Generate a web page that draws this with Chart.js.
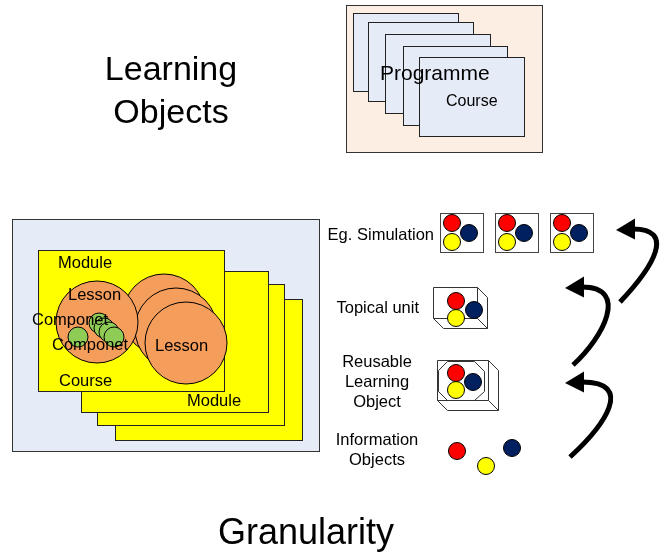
<!DOCTYPE html>
<html>
<head>
<meta charset="utf-8">
<script src="https://cdn.jsdelivr.net/npm/chart.js@4.4.0/dist/chart.umd.min.js"></script>
<style>
  html, body { margin: 0; padding: 0; background: #fff; }
  canvas { display: block; }
</style>
</head>
<body>
<canvas id="diagram" width="660" height="554"></canvas>
<script>
// Diagram coordinates (x to the right, y downwards), 660 x 554 units

// Frames and cards: [x0, y0, x1, y1]
const programmeFrame = [346, 5, 542, 152];
const programmeCards = [[353, 13, 458, 91], [368, 22, 473, 101], [385, 34, 490, 113], [403, 46, 507, 125], [419, 57, 524, 136]];
const granuleFrame = [12, 219, 319, 451];
const moduleCards = [[115, 299, 302, 440], [97, 284, 284, 425], [81, 271, 268, 412], [38, 250, 224, 391]];
const simBoxes = [[440, 213, 483, 252], [495, 213, 538, 252], [550, 213, 593, 252]];

// Circles (centres)
const lessonBig = [[164, 315], [176, 329], [186, 343]];
const lessonSmall = [[97, 322]];
const components = [[78, 337], [99, 323], [104, 328], [109, 332], [114, 337]];
const redObjects = [[452, 223], [507, 223], [562, 223], [456, 301], [456, 373], [457, 451]];
const yellowObjects = [[452, 242], [507, 242], [562, 242], [456, 318], [456, 390], [486, 466]];
const navyObjects = [[469, 233], [524, 233], [579, 233], [474, 310], [473, 382], [512, 448]];

// Arrows: tail, control 1, control 2, end of shaft
const arrows = [
  [570, 457, 605, 425, 635, 382, 582, 382],
  [573, 365, 603, 338, 630, 287, 582, 287],
  [620, 302, 655, 265, 675, 229, 633, 229]
];

// Texts: [text, x, y, size]
const bigTexts = [['Learning', 171, 80, 34], ['Objects', 171, 123, 34], ['Granularity', 306, 544, 36]];
const programmeTexts = [['Programme', 380, 80, 21], ['Course', 446, 106, 16]];
const moduleTexts = [['Module', 58, 268], ['Course', 59, 386], ['Module', 187, 406],
  ['Lesson', 68, 300], ['Lesson', 155, 351], ['Componet', 32, 325], ['Componet', 52, 350]];
const levelTexts = [['Eg. Simulation', 434, 240, 'right'], ['Topical unit', 419, 313, 'right'],
  ['Reusable', 377, 367, 'center'], ['Learning', 377, 387, 'center'], ['Object', 377, 407, 'center'],
  ['Information', 377, 445, 'center'], ['Objects', 377, 465, 'center']];

const FONT = '"Liberation Sans", Arial, sans-serif';

const toXY = list => list.map(p => ({ x: p[0], y: p[1] }));

function circleSet(label, list, r, fill, order) {
  return {
    label: label,
    data: toXY(list),
    pointRadius: r,
    pointHoverRadius: r,
    pointBackgroundColor: fill,
    pointBorderColor: '#000',
    pointBorderWidth: 1,
    pointHoverBorderWidth: 1,
    showLine: false,
    clip: false,
    order: order
  };
}

// Draws the frames, boxes, arrows and texts through the chart scales
const diagramPlugin = {
  id: 'diagram',
  beforeDatasetsDraw(chart) {
    const ctx = chart.ctx;
    const sx = v => chart.scales.x.getPixelForValue(v);
    const sy = v => chart.scales.y.getPixelForValue(v);

    function box(r, fill, stroke) {
      const x0 = Math.round(sx(r[0])) + 0.5, y0 = Math.round(sy(r[1])) + 0.5;
      const x1 = Math.round(sx(r[2])) + 0.5, y1 = Math.round(sy(r[3])) + 0.5;
      ctx.fillStyle = fill;
      ctx.fillRect(x0, y0, x1 - x0, y1 - y0);
      ctx.strokeStyle = stroke;
      ctx.lineWidth = 1;
      ctx.strokeRect(x0, y0, x1 - x0, y1 - y0);
    }
    function poly(points, close) {
      ctx.beginPath();
      points.forEach((p, i) => {
        const px = Math.round(sx(p[0])) + 0.5, py = Math.round(sy(p[1])) + 0.5;
        if (i === 0) ctx.moveTo(px, py); else ctx.lineTo(px, py);
      });
      if (close) ctx.closePath();
      ctx.stroke();
    }

    ctx.save();
    box(programmeFrame, '#fdeee4', '#333');
    programmeCards.forEach(c => box(c, '#e6ecf7', '#222'));
    box(granuleFrame, '#e6ecf7', '#333');
    moduleCards.forEach(c => box(c, '#ffff00', '#222'));
    simBoxes.forEach(c => box(c, '#ffffff', '#444'));

    // Topical unit: open cube
    ctx.strokeStyle = '#333';
    ctx.lineWidth = 1;
    poly([[433, 287], [477, 287], [487, 297], [487, 328], [443, 328], [433, 318]], true);
    poly([[433, 318], [477, 318], [477, 287]], false);
    poly([[477, 318], [487, 328]], false);

    // Reusable learning object: cube with an octagon inside
    poly([[437, 360], [488, 360], [498, 370], [498, 410], [447, 410], [437, 400]], true);
    poly([[437, 400], [488, 400], [488, 360]], false);
    poly([[488, 400], [498, 410]], false);
    poly([[447, 361], [474, 361], [484, 371], [484, 391], [474, 400], [447, 400], [438, 391], [438, 370]], true);
    ctx.restore();
  },
  afterDatasetsDraw(chart) {
    const ctx = chart.ctx;
    const sx = v => chart.scales.x.getPixelForValue(v);
    const sy = v => chart.scales.y.getPixelForValue(v);

    ctx.save();
    // Arrows
    ctx.strokeStyle = '#000';
    ctx.fillStyle = '#000';
    arrows.forEach(a => {
      ctx.lineWidth = 5;
      ctx.beginPath();
      ctx.moveTo(sx(a[0]), sy(a[1]));
      ctx.bezierCurveTo(sx(a[2]), sy(a[3]), sx(a[4]), sy(a[5]), sx(a[6]), sy(a[7]));
      ctx.stroke();
      const ex = sx(a[6]), ey = sy(a[7]);
      let dx = ex - sx(a[4]), dy = ey - sy(a[5]);
      const len = Math.hypot(dx, dy);
      dx /= len; dy /= len;
      ctx.beginPath();
      ctx.moveTo(ex + dx * 17, ey + dy * 17 + 1);
      ctx.lineTo(ex - dx * 2 - dy * 9.5, ey - dy * 2 + dx * 9.5 - 1);
      ctx.lineTo(ex - dx * 2 + dy * 9.5, ey - dy * 2 - dx * 9.5 + 1);
      ctx.closePath();
      ctx.fill();
    });

    // Texts
    ctx.fillStyle = '#000';
    ctx.textBaseline = 'alphabetic';
    ctx.textAlign = 'center';
    bigTexts.forEach(t => {
      ctx.font = t[3] + 'px ' + FONT;
      ctx.fillText(t[0], sx(t[1]), sy(t[2]));
    });
    ctx.textAlign = 'left';
    programmeTexts.forEach(t => {
      ctx.font = t[3] + 'px ' + FONT;
      ctx.fillText(t[0], sx(t[1]), sy(t[2]));
    });
    ctx.font = '16.5px ' + FONT;
    moduleTexts.forEach(t => ctx.fillText(t[0], sx(t[1]), sy(t[2])));
    levelTexts.forEach(t => {
      ctx.textAlign = t[3];
      ctx.fillText(t[0], sx(t[1]), sy(t[2]));
    });
    ctx.restore();
  }
};

new Chart(document.getElementById('diagram'), {
  type: 'scatter',
  data: {
    datasets: [
      circleSet('Lesson', lessonBig, 41, '#f59d5b', 6),
      circleSet('Lesson (small)', lessonSmall, 41, '#f59d5b', 5),
      circleSet('Componet', components, 10, '#8fcc55', 4),
      circleSet('Red', redObjects, 8.5, '#ff0000', 3),
      circleSet('Navy', navyObjects, 8.5, '#002060', 2),
      circleSet('Yellow', yellowObjects, 8.5, '#ffff00', 1)
    ]
  },
  options: {
    responsive: false,
    animation: false,
    events: [],
    layout: { padding: 0, autoPadding: false },
    plugins: {
      legend: { display: false },
      tooltip: { enabled: false }
    },
    scales: {
      x: { type: 'linear', min: 0, max: 660, display: false },
      y: { type: 'linear', min: 0, max: 554, reverse: true, display: false }
    }
  },
  plugins: [diagramPlugin]
});
</script>
</body>
</html>
